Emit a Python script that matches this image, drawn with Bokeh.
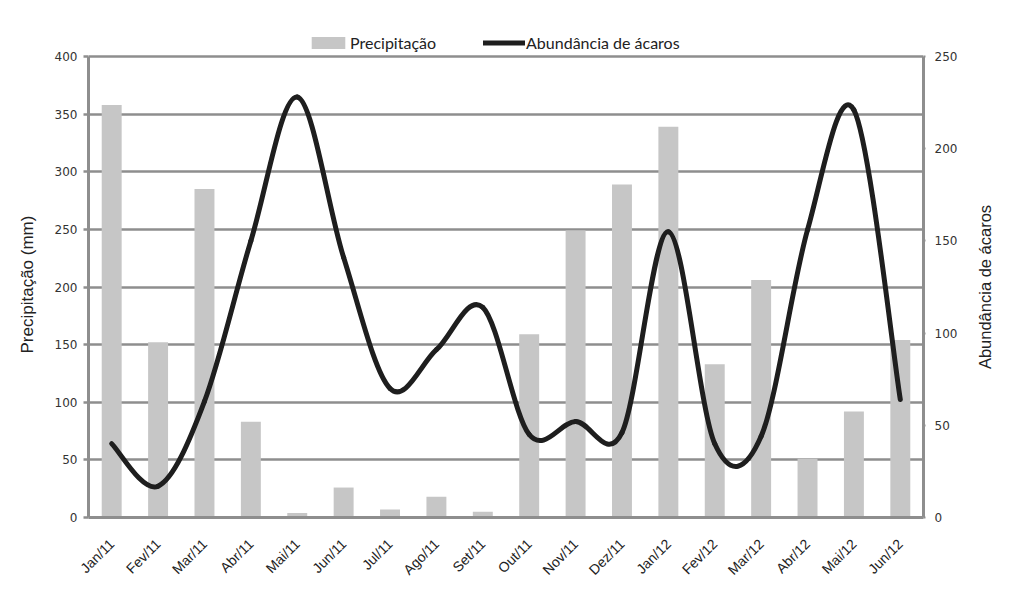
import math
from bokeh.plotting import figure
from bokeh.layouts import row
from bokeh.core.properties import value
from bokeh.models import Range1d, LinearAxis, FixedTicker, Legend, LegendItem, ColumnDataSource, Title
from bokeh.embed import file_html
from bokeh.resources import INLINE

months = ["Jan/11", "Fev/11", "Mar/11", "Abr/11", "Mai/11", "Jun/11", "Jul/11", "Ago/11", "Set/11",
          "Out/11", "Nov/11", "Dez/11", "Jan/12", "Fev/12", "Mar/12", "Abr/12", "Mai/12", "Jun/12"]
precipitacao = [358, 152, 285, 83, 4, 26, 7, 18, 5, 159, 249, 289, 339, 133, 206, 51, 92, 154]
abundancia = [40, 17, 63, 150, 228, 141, 70, 91, 114, 45, 52, 46, 155, 40, 44, 156, 221, 64]
left_ticks = [0, 50, 100, 150, 200, 250, 300, 350, 400]
right_ticks = [0, 50, 100, 150, 200, 250]

GRAY = "#8e8e8e"
BAR = "#c6c6c6"
LINE = "#1e1e1e"

n = len(months)
xc = [i + 0.5 for i in range(n)]

# frame extends above the 400 line so the legend can sit there
FRAME_H = 497
PLOT_H = 461
top_left = 400 * FRAME_H / PLOT_H
top_right = 250 * FRAME_H / PLOT_H

p = figure(frame_width=835, frame_height=FRAME_H, x_range=Range1d(0, n), y_range=Range1d(0, top_left),
           output_backend="svg", toolbar_location=None,
           min_border_left=88, min_border_right=54, min_border_top=20, min_border_bottom=77)
p.outline_line_color = None
p.background_fill_color = "white"
p.border_fill_color = "white"
p.extra_y_ranges = {"ab": Range1d(0, top_right)}

# grid
p.xgrid.visible = False
p.ygrid.ticker = FixedTicker(ticks=left_ticks)
p.ygrid.grid_line_color = GRAY
p.ygrid.grid_line_width = 2.6

# bars
bars = p.vbar(x=xc, top=precipitacao, width=0.43, fill_color=BAR, line_color=None)

# smoothed line via bezier segments (Excel-like smoothing)
def pt(i):
    i = max(0, min(n - 1, i))
    return xc[i], abundancia[i]

x0, y0, x1, y1, cx0, cy0, cx1, cy1 = [], [], [], [], [], [], [], []
for i in range(n - 1):
    pa = pt(i - 1); pb = pt(i); pc = pt(i + 1); pd = pt(i + 2)
    x0.append(pb[0]); y0.append(pb[1]); x1.append(pc[0]); y1.append(pc[1])
    cx0.append(pb[0] + (pc[0] - pa[0]) / 6.0); cy0.append(pb[1] + (pc[1] - pa[1]) / 6.0)
    cx1.append(pc[0] - (pd[0] - pb[0]) / 6.0); cy1.append(pc[1] - (pd[1] - pb[1]) / 6.0)
src = ColumnDataSource(dict(x0=x0, y0=y0, x1=x1, y1=y1, cx0=cx0, cy0=cy0, cx1=cx1, cy1=cy1))
curve = p.bezier(x0="x0", y0="y0", x1="x1", y1="y1", cx0="cx0", cy0="cy0", cx1="cx1", cy1="cy1",
                 source=src, y_range_name="ab", line_color=LINE, line_width=5, line_cap="round")

# left axis
ya = p.yaxis[0]
ya.ticker = FixedTicker(ticks=left_ticks)
ya.bounds = (0, 400)
ya.major_label_text_font = "DejaVu Sans"
ya.major_label_text_font_size = "12px"
ya.major_label_text_color = "#333333"
ya.major_label_standoff = 6
ya.axis_line_color = GRAY
ya.axis_line_width = 3
ya.major_tick_line_color = GRAY
ya.major_tick_line_width = 2.5
ya.major_tick_out = 5
ya.major_tick_in = 0
ya.minor_tick_line_color = None

left_title = Title(text="Precipitação (mm)", align="left", offset=164, standoff=30,
                   text_font="Liberation Sans", text_font_style="normal", text_font_size="17px",
                   text_color="#222222")
p.add_layout(left_title, "left")

# right axis
ra = LinearAxis(y_range_name="ab", ticker=FixedTicker(ticks=right_ticks), bounds=(0, 250))
ra.major_label_text_font = "DejaVu Sans"
ra.major_label_text_font_size = "12px"
ra.major_label_text_color = "#333333"
ra.major_label_standoff = 9
ra.axis_line_color = GRAY
ra.axis_line_width = 3
ra.major_tick_line_color = GRAY
ra.major_tick_line_width = 2
ra.major_tick_out = 2
ra.major_tick_in = 0
ra.minor_tick_line_color = None
p.add_layout(ra, "right")

# bottom axis
xa = p.xaxis[0]
xa.ticker = FixedTicker(ticks=xc)
xa.major_label_overrides = {xc[i]: months[i] for i in range(n)}
xa.major_label_orientation = math.pi / 4
xa.major_label_text_font = "Liberation Sans"
xa.major_label_text_font_size = "14px"
xa.major_label_text_color = "#222222"
xa.axis_line_color = GRAY
xa.axis_line_width = 3
xa.major_tick_line_color = None
xa.minor_tick_line_color = None
xa.major_label_standoff = 18

legend = Legend(items=[LegendItem(label="Precipitação", renderers=[bars]),
                       LegendItem(label="Abundância de ácaros", renderers=[curve])],
                orientation="horizontal", location=(219, 465),
                label_text_font="Lato", label_text_font_size="16px", label_text_color="#222222",
                glyph_width=42, glyph_height=15, label_standoff=1, spacing=47,
                padding=0, margin=0, border_line_color=None, background_fill_alpha=0)
p.add_layout(legend, "center")

# narrow strip carrying the right-hand axis title (reads bottom to top),
# sharing the main frame's vertical extent and the abundance scale
SIDE_W = 47
side = figure(frame_width=SIDE_W, frame_height=FRAME_H, x_range=Range1d(0, SIDE_W),
              y_range=Range1d(0, top_right), x_axis_type=None, y_axis_type=None,
              output_backend="svg", toolbar_location=None,
              min_border_left=0, min_border_right=0, min_border_top=20, min_border_bottom=77)
side.grid.visible = False
side.outline_line_color = None
side.background_fill_color = "white"
side.border_fill_color = "white"
mid_right = (right_ticks[0] + right_ticks[-1]) / 2
side.text(x=[7.5], y=[mid_right], text=["Abundância de ácaros"], angle=math.pi / 2,
          text_align="center", text_baseline="middle",
          text_font=value("Liberation Sans"), text_font_size=value("16.5px"), text_color="#222222")

layout = row(p, side)
open("out.html", "w").write(file_html(layout, INLINE))
